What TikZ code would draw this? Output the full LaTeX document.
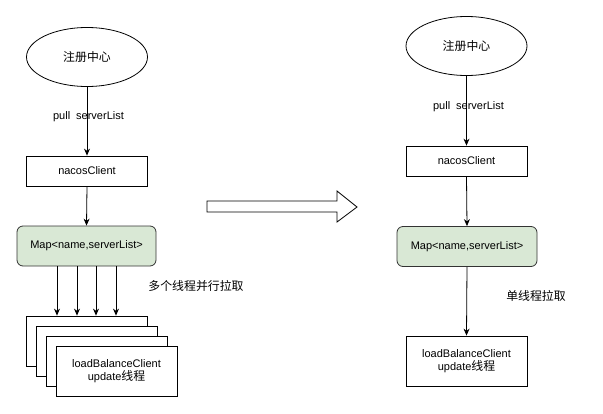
\documentclass[tikz,border=0pt]{standalone}
\usepackage{fontspec}
\setmainfont{Liberation Sans}
\newfontfamily\cjk{Noto Sans CJK SC}[Scale=1.08]
\usetikzlibrary{shapes.geometric,arrows.meta}
\definecolor{mapfill}{HTML}{D9E8D5}
\tikzset{
  box/.style={draw=black, line width=0.8pt, fill=white, minimum width=121pt, minimum height=30pt, inner sep=0pt, font=\fontsize{11pt}{13pt}\selectfont, align=center},
  ell/.style={draw=black, line width=0.8pt, ellipse, minimum width=121pt, minimum height=59pt, inner sep=0pt, font=\fontsize{11pt}{13pt}\selectfont\cjk},
  mapbox/.style={draw=black!80, line width=0.8pt, fill=mapfill, rounded corners=6pt, minimum width=139pt, minimum height=40pt, inner sep=0pt, font=\fontsize{11pt}{13pt}\selectfont},
  conn/.style={line width=0.8pt, -{Stealth[length=7pt,width=6pt]}},
  lbl/.style={font=\fontsize{11pt}{13pt}\selectfont, inner sep=0pt},
}
\begin{document}
\begin{tikzpicture}[x=1pt,y=-1pt]
\useasboundingbox (0,0) rectangle (603,413);
% left column
\node[ell] (e1) at (87,57) {注册中心};
\node[box] (n1) at (87,171) {nacosClient};
\node[mapbox] (m1) at (86.5,246) {Map<name,serverList>};
\node[lbl] at (88.5,117) {pull\hspace{6pt}serverList};
\draw[conn] (e1.south) -- (n1.north);
\draw[conn] (n1.south) -- (m1.north);
\node[box, minimum height=50pt] (b1) at (86.5,341) {};
\node[box, minimum height=50pt] (b2) at (96.5,351) {};
\node[box, minimum height=50pt] (b3) at (106.5,361) {};
\node[box, minimum height=50pt] (b4) at (116.5,371) {loadBalanceClient\\update{\cjk 线程}};
\foreach \xx in {57,77,96,116}{
  \draw[conn] (m1.south -| \xx,0) -- (b1.north -| \xx,0);
}
\node[lbl,font=\fontsize{11pt}{13pt}\selectfont\cjk] (t1) at (196,286) {多个线程并行拉取};
% big hollow arrow
\draw[line width=0.8pt, fill=white, line join=miter] (207,201) -- (337,201) -- (337,191) -- (357,207) -- (337,222) -- (337,212) -- (207,212) -- cycle;
% right column
\node[ell] (e2) at (466.5,46) {注册中心};
\node[box] (n2) at (466.5,161) {nacosClient};
\node[mapbox, minimum width=140pt] (m2) at (467,246.5) {Map<name,serverList>};
\node[lbl] at (468.5,107) {pull\hspace{6pt}serverList};
\draw[conn] (e2.south) -- (n2.north);
\draw[conn] (n2.south) -- (m2.north);
\node[box, minimum height=50pt] (b5) at (466.5,361) {loadBalanceClient\\update{\cjk 线程}};
\draw[conn] (m2.south) -- (b5.north);
\node[lbl,font=\fontsize{11pt}{13pt}\selectfont\cjk] (t2) at (536,296) {单线程拉取};
\end{tikzpicture}
\end{document}
